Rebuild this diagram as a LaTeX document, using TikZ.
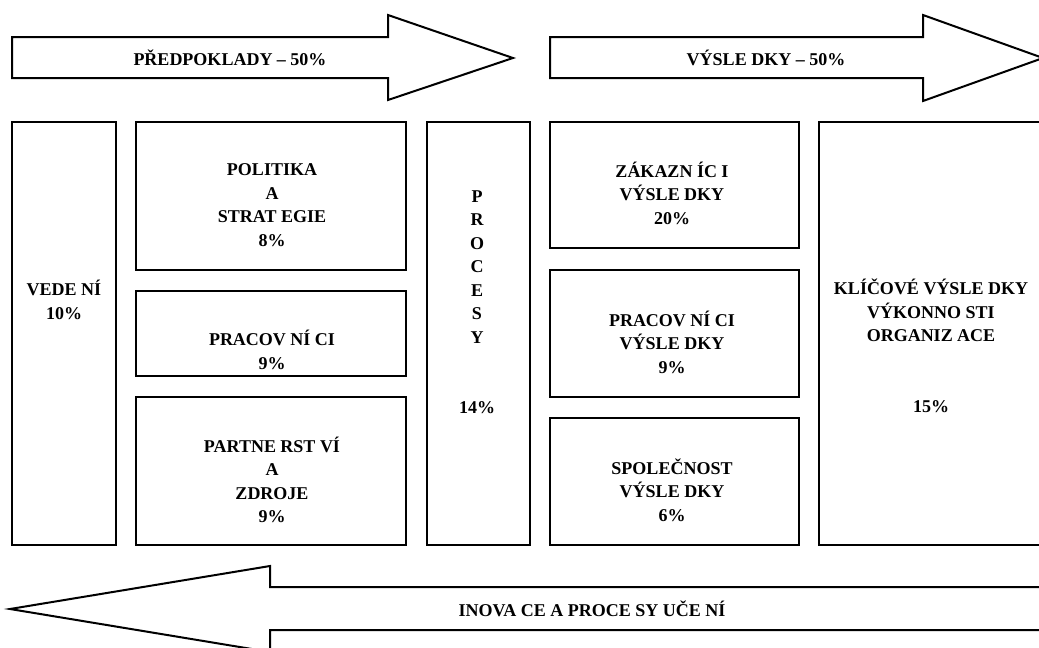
\documentclass[tikz,border=0pt]{standalone}
\usepackage{fontspec}
\setmainfont{Liberation Serif}

\begin{document}
\begin{tikzpicture}[x=1pt, y=-1pt, line width=2pt, line join=miter,
  lbl/.style={font=\bfseries\fontsize{18}{23.5}\selectfont, align=center, inner sep=0pt}]
\useasboundingbox (0,0) rectangle (1039,648);
\clip (0,0) rectangle (1039,648);
\draw (12,37) -- (388,37) -- (388,15) -- (513,58) -- (388,100) -- (388,78) -- (12,78) -- cycle;
\node[lbl] (predpoklady) at (230,58) {PŘEDPOKLADY – 50\%};
\draw (550,37) -- (923,37) -- (923,15) -- (1043,58) -- (923,101) -- (923,78) -- (550,78) -- cycle;
\node[lbl] (vysledky) at (766,58) {VÝSLE DKY – 50\%};
\draw (12,122) rectangle (116,545);
\node[lbl] (vedeni) at (64,300) {VEDE NÍ\\10\%};
\draw (136,122) rectangle (406,270);
\node[lbl] (politika) at (272,205) {POLITIKA\\A\\STRAT EGIE\\8\%};
\draw (136,291) rectangle (406,376);
\node[lbl] (pracovnici) at (272,350) {PRACOV NÍ CI\\9\%};
\draw (136,397) rectangle (406,545);
\node[lbl] (partnerstvi) at (272,480) {PARTNE RST VÍ\\A\\ZDROJE\\9\%};
\draw (427,122) rectangle (530,545);
\node[lbl] (procesy) at (477,302) {P\\R\\O\\C\\E\\S\\Y\\[47pt]14\%};
\draw (550,122) rectangle (799,248);
\node[lbl] (zakaznici) at (672,193) {ZÁKAZN ÍC I\\VÝSLE DKY\\20\%};
\draw (550,270) rectangle (799,397);
\node[lbl] (pracvysledky) at (672,342) {PRACOV NÍ CI\\VÝSLE DKY\\9\%};
\draw (550,418) rectangle (799,545);
\node[lbl] (spolecnost) at (672,490) {SPOLEČNOST\\VÝSLE DKY\\6\%};
\draw (819,122) rectangle (1045,545);
\node[lbl] (klicove) at (931,346) {KLÍČOVÉ VÝSLE DKY\\VÝKONNO STI\\ORGANIZ ACE\\[47pt]15\%};
\draw (1045,587) -- (270,587) -- (270,566) -- (10,609) -- (270,652) -- (270,630) -- (1045,630);
\node[lbl] (inovace) at (592,609) {INOVA CE A PROCE SY UČE NÍ};
\end{tikzpicture}
\end{document}
